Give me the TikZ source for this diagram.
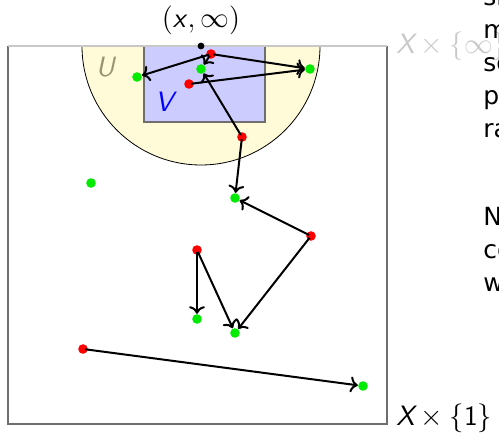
\documentclass[tikz,border=0pt]{standalone}
\usepackage{fontspec}
\usepackage{amsmath,amssymb}
\usepackage{xcolor}
\usetikzlibrary{positioning, calc, arrows.meta}
\newfontfamily\sidefont{DejaVu Sans}
\definecolor{usetfill}{RGB}{255,250,215}
\definecolor{vsetfill}{RGB}{204,204,255}
\definecolor{ulabel}{RGB}{150,150,110}
\definecolor{edgegray}{RGB}{110,110,110}
\definecolor{topgray}{RGB}{200,200,200}
\definecolor{dotgreen}{RGB}{0,235,0}
\tikzset{
  reddot/.style={circle, fill=red, inner sep=0pt, minimum size=4.8pt},
  greendot/.style={circle, fill=dotgreen, inner sep=0pt, minimum size=4.8pt},
  move/.style={->, line width=1pt, shorten <=-1.5pt},
  lbl/.style={font=\fontsize{14}{16}\selectfont\sffamily, inner sep=0pt},
  sidetext/.style={anchor=base west, inner sep=0pt, font=\fontsize{12.5}{14}\selectfont\sidefont}
}

\begin{document}
\begin{tikzpicture}[x=0.5pt, y=0.5pt]
    \useasboundingbox (0,0) rectangle (499,438);

    % Half disc U below the point at infinity
    \filldraw[fill=usetfill, draw=black, line width=0.4pt]
        (82,392) arc[start angle=180, end angle=360, radius=119] -- cycle;

    % Open box V inside U
    \filldraw[fill=vsetfill, draw=edgegray, line width=0.6pt] (144,316) rectangle (265,392);

    % The square X x [1,infinity]
    \draw[edgegray, line width=0.8pt] (8,392) -- (8,14) -- (387,14) -- (387,392);
    \draw[topgray, line width=0.8pt] (8,392) -- (387,392);

    % Boundary labels
    \node[lbl, text=topgray, anchor=west] (top) at (396,392) {$\textit{X}\times\{\infty\}$};
    \node[lbl, anchor=west] (bottom) at (396,20) {$\textit{X}\times\{\textsf{1}\}$};
    \node[lbl] (xinf) at (201,418) {$($\textit{x}$,\infty)$};
    \fill (201,392) circle (1.7pt);
    \node[lbl, text=ulabel] (ulbl) at (106,371) {\textit{U}};
    \node[lbl, text=blue] (vlbl) at (166,336) {\textit{V}};

    % Red points (starts)
    \node[reddot] (r1) at (211,384) {};
    \node[reddot] (r2) at (189,354) {};
    \node[reddot] (r3) at (242,301) {};
    \node[reddot] (r4) at (311,202) {};
    \node[reddot] (r5) at (197,188) {};
    \node[reddot] (r6) at (83,89) {};

    % Green points (ends)
    \node[greendot] (g1) at (137,361) {};
    \node[greendot] (g2) at (201,369) {};
    \node[greendot] (g3) at (310,369) {};
    \node[greendot] (g4) at (91,255) {};
    \node[greendot] (g5) at (235,240) {};
    \node[greendot] (g6) at (197,119) {};
    \node[greendot] (g7) at (235,105) {};
    \node[greendot] (g8) at (363,52) {};

    % Moves from red to green
    \draw[move] (r1) -- (g1);
    \draw[move] (r1) -- (g2);
    \draw[move] (r1) -- (g3);
    \draw[move] (r2) -- (g3);
    \draw[move] (r3) -- (g2);
    \draw[move] (r3) -- (g5);
    \draw[move] (r4) -- (g5);
    \draw[move] (r4) -- (g7);
    \draw[move] (r5) -- (g6);
    \draw[move] (r5) -- (g7);
    \draw[move] (r6) -- (g8);

    % Text of the page running past the right edge
    \node[sidetext] (s1) at (483,432) {sh};
    \node[sidetext] (s2) at (483,399) {m};
    \node[sidetext] (s3) at (483,366) {so};
    \node[sidetext] (s4) at (483,333) {p};
    \node[sidetext] (s5) at (483,300) {ra};
    \node[sidetext] (s6) at (483,212) {N};
    \node[sidetext] (s7) at (483,179) {co};
    \node[sidetext] (s8) at (483,146) {w};

\end{tikzpicture}
\end{document}
